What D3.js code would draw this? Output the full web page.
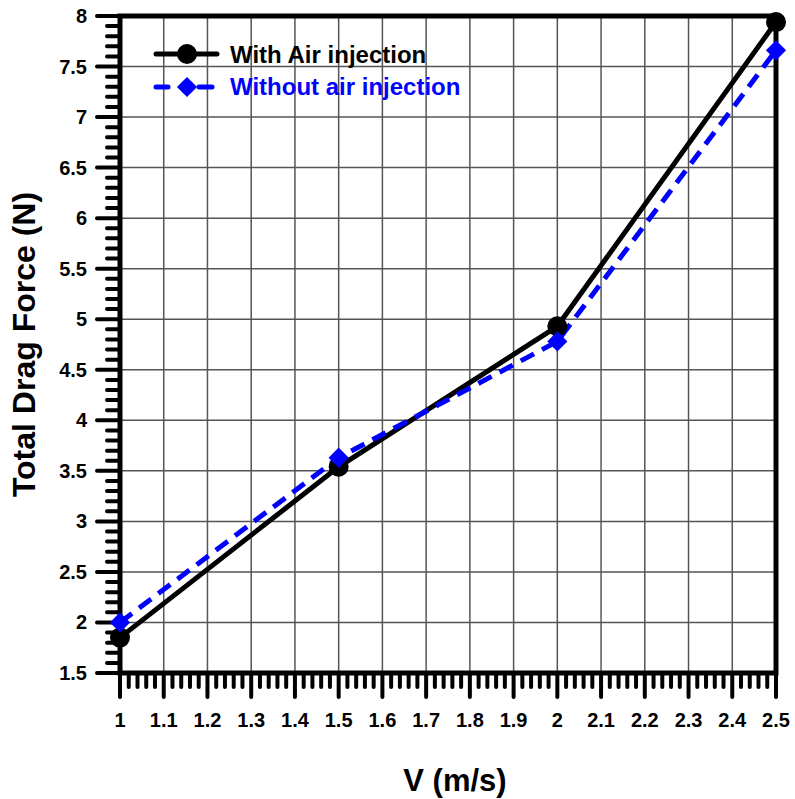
<!DOCTYPE html>
<html>
<head>
<meta charset="utf-8">
<script src="https://cdn.jsdelivr.net/npm/d3@7"></script>
<style>
  body { margin: 0; background: #fff; }
  svg text { font-family: "Liberation Sans", Arial, sans-serif; font-weight: bold; }
</style>
</head>
<body>
<svg id="chart"></svg>
<script>
// Data
const speeds = [1, 1.5, 2, 2.5];
const withAir = [1.85, 3.54, 4.93, 7.94];
const withoutAir = [2.0, 3.63, 4.78, 7.66];
const seriesNames = ["With Air injection", "Without air injection"];
const xTickValues = [1, 1.1, 1.2, 1.3, 1.4, 1.5, 1.6, 1.7, 1.8, 1.9, 2, 2.1, 2.2, 2.3, 2.4, 2.5];
const yTickValues = [1.5, 2, 2.5, 3, 3.5, 4, 4.5, 5, 5.5, 6, 6.5, 7, 7.5, 8];

const width = 795, height = 799;
const margin = { top: 16, right: 19, bottom: 126, left: 120 };

const svg = d3.select("#chart").attr("width", width).attr("height", height);

const x = d3.scaleLinear().domain([1, 2.5]).range([margin.left, width - margin.right]);
const y = d3.scaleLinear().domain([1.5, 8]).range([height - margin.bottom, margin.top]);

// Grid lines
const grid = svg.append("g").attr("stroke", "#555").attr("stroke-width", 1.5);
grid.selectAll("line.v").data(xTickValues.slice(1, -1)).join("line")
    .attr("x1", d => x(d)).attr("x2", d => x(d))
    .attr("y1", y(1.5)).attr("y2", y(8));
grid.selectAll("line.h").data(yTickValues.slice(1, -1)).join("line")
    .attr("class", "h")
    .attr("x1", x(1)).attr("x2", x(2.5))
    .attr("y1", d => y(d)).attr("y2", d => y(d));

// Minor ticks
const xMinor = d3.range(0, 76).map(i => 1 + i * 0.02).filter(v => Math.abs(v * 10 - Math.round(v * 10)) > 1e-6);
const yMinor = d3.range(0, 66).map(i => 1.5 + i * 0.1).filter(v => Math.abs(v * 2 - Math.round(v * 2)) > 1e-6);

const ticks = svg.append("g").attr("stroke", "#000").attr("stroke-width", 4).attr("stroke-linecap", "round");
ticks.selectAll("line.xm").data(xMinor).join("line").attr("class", "xm")
    .attr("x1", d => x(d)).attr("x2", d => x(d))
    .attr("y1", y(1.5)).attr("y2", y(1.5) + 14);
ticks.selectAll("line.xM").data(xTickValues).join("line").attr("class", "xM")
    .attr("x1", d => x(d)).attr("x2", d => x(d))
    .attr("y1", y(1.5)).attr("y2", y(1.5) + 24);
ticks.selectAll("line.ym").data(yMinor).join("line").attr("class", "ym")
    .attr("x1", x(1) - 13).attr("x2", x(1))
    .attr("y1", d => y(d)).attr("y2", d => y(d));
ticks.selectAll("line.yM").data(yTickValues).join("line").attr("class", "yM")
    .attr("x1", x(1) - 23).attr("x2", x(1))
    .attr("y1", d => y(d)).attr("y2", d => y(d));

// Frame
svg.append("rect")
    .attr("x", x(1)).attr("y", y(8))
    .attr("width", x(2.5) - x(1)).attr("height", y(1.5) - y(8))
    .attr("fill", "none").attr("stroke", "#000").attr("stroke-width", 5);

// Tick labels
svg.append("g").selectAll("text").data(xTickValues).join("text")
    .attr("x", d => x(d)).attr("y", y(1.5) + 54)
    .attr("text-anchor", "middle").attr("font-size", 20)
    .text(d => d3.format("")(d));
svg.append("g").selectAll("text").data(yTickValues).join("text")
    .attr("x", x(1) - 33).attr("y", d => y(d) + 7)
    .attr("text-anchor", "end").attr("font-size", 20)
    .text(d => d3.format("")(d));

// Axis titles
svg.append("text")
    .attr("x", (x(1) + x(2.5)) / 2 + 7).attr("y", 791)
    .attr("text-anchor", "middle").attr("font-size", 31)
    .text("V (m/s)");
svg.append("text")
    .attr("transform", `translate(35,${(y(1.5) + y(8)) / 2}) rotate(-90)`)
    .attr("text-anchor", "middle").attr("font-size", 32)
    .text("Total Drag Force (N)");

// Series
const line = d3.line().x(d => x(d[0])).y(d => y(d[1]));
const blackPts = speeds.map((s, i) => [s, withAir[i]]);
const bluePts = speeds.map((s, i) => [s, withoutAir[i]]);

const diamond = d3.symbol().type(d3.symbolDiamond2).size(260);

svg.append("path").datum(blackPts).attr("d", line)
    .attr("fill", "none").attr("stroke", "#000").attr("stroke-width", 5);
svg.append("path").datum(bluePts).attr("d", line)
    .attr("fill", "none").attr("stroke", "#0000ff").attr("stroke-width", 5)
    .attr("stroke-dasharray", "15,9");

svg.append("g").selectAll("circle").data(blackPts).join("circle")
    .attr("cx", d => x(d[0])).attr("cy", d => y(d[1])).attr("r", 10).attr("fill", "#000");
svg.append("g").selectAll("path").data(bluePts).join("path")
    .attr("transform", d => `translate(${x(d[0])},${y(d[1])})`)
    .attr("d", diamond).attr("fill", "#0000ff");

// Legend
const legend = svg.append("g");
legend.append("line").attr("x1", 156).attr("x2", 217).attr("y1", 54).attr("y2", 54)
    .attr("stroke", "#000").attr("stroke-width", 5).attr("stroke-linecap", "round");
legend.append("circle").attr("cx", 187).attr("cy", 54).attr("r", 10).attr("fill", "#000");
legend.append("text").attr("x", 230).attr("y", 63).attr("font-size", 24).attr("fill", "#000").text(seriesNames[0]);

legend.append("line").attr("x1", 156).attr("x2", 168).attr("y1", 87).attr("y2", 87)
    .attr("stroke", "#0000ff").attr("stroke-width", 5).attr("stroke-linecap", "round");
legend.append("line").attr("x1", 199).attr("x2", 212).attr("y1", 87).attr("y2", 87)
    .attr("stroke", "#0000ff").attr("stroke-width", 5).attr("stroke-linecap", "round");
legend.append("path").attr("transform", "translate(187,87)").attr("d", diamond).attr("fill", "#0000ff");
legend.append("text").attr("x", 230).attr("y", 95).attr("font-size", 24).attr("fill", "#0000ff").text(seriesNames[1]);
</script>
</body>
</html>
